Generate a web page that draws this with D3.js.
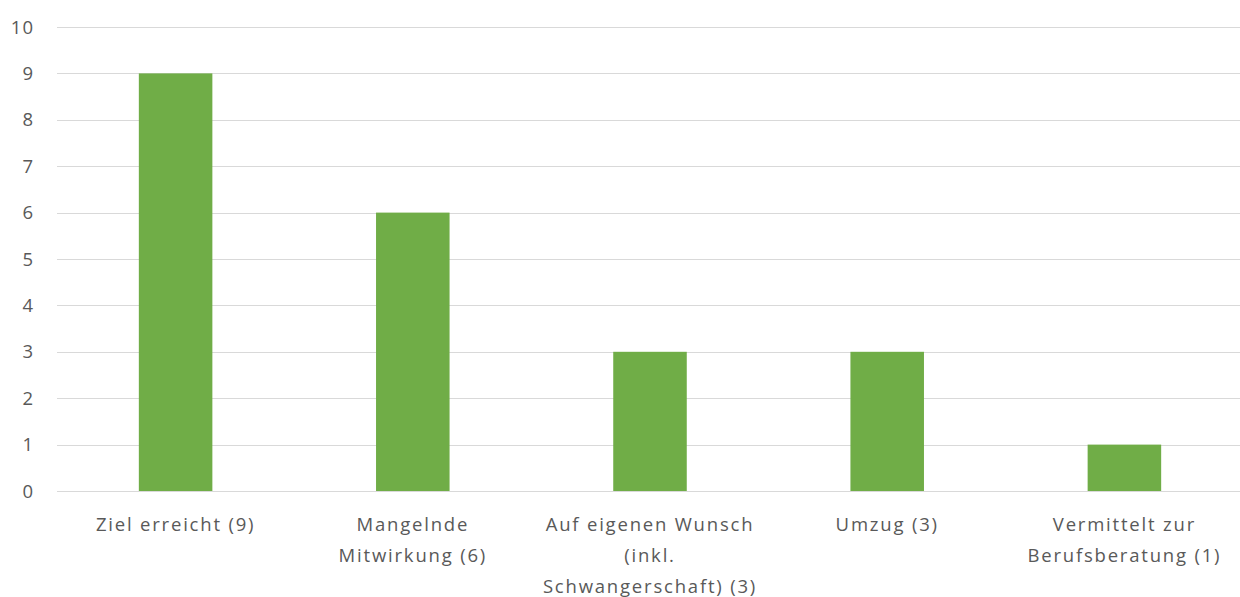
<!DOCTYPE html>
<html>
<head>
<meta charset="utf-8">
<script src="https://cdn.jsdelivr.net/npm/d3@7"></script>
<style>
  body { margin: 0; background: #fff; }
  text { font-family: "Open Sans", "Liberation Sans", sans-serif; fill: #595959; }
</style>
</head>
<body>
<div id="chart"></div>
<script>
// data
var categories = ["Ziel erreicht (9)", "Mangelnde Mitwirkung (6)", "Auf eigenen Wunsch (inkl. Schwangerschaft) (3)", "Umzug (3)", "Vermittelt zur Berufsberatung (1)"];
var categoryLines = [
    ["Ziel erreicht (9)"],
    ["Mangelnde", "Mitwirkung (6)"],
    ["Auf eigenen Wunsch", "(inkl.", "Schwangerschaft) (3)"],
    ["Umzug (3)"],
    ["Vermittelt zur", "Berufsberatung (1)"]
];
var values = [9, 6, 3, 3, 1];
var yTicks = [0, 1, 2, 3, 4, 5, 6, 7, 8, 9, 10];

var W = 1240, H = 597;
var margin = { top: 27, right: -3, bottom: 106, left: 57 },
    width = W - margin.left - margin.right,
    height = H - margin.top - margin.bottom;

var svg = d3.select("#chart")
    .append("svg")
    .attr("width", W)
    .attr("height", H)
    .append("g")
    .attr("transform", "translate(" + margin.left + "," + margin.top + ")");

var x = d3.scaleBand().domain(categories).range([0, width]).paddingInner(0.69).paddingOuter(0.345);
var y = d3.scaleLinear().domain([0, 10]).range([height, 0]);

// gridlines
svg.selectAll(".grid")
    .data(yTicks)
    .join("line")
    .attr("class", "grid")
    .attr("x1", 0)
    .attr("x2", width)
    .attr("y1", function (d) { return Math.round(y(d)) + 0.5 })
    .attr("y2", function (d) { return Math.round(y(d)) + 0.5 })
    .attr("stroke", "#d9d9d9")
    .attr("stroke-width", 1)

// y labels
svg.selectAll(".ylab")
    .data(yTicks)
    .join("text")
    .attr("class", "ylab")
    .attr("x", -23)
    .attr("y", function (d) { return y(d) })
    .attr("dy", "0.36em")
    .attr("text-anchor", "end")
    .style("font-size", "18.5px")
    .style("letter-spacing", "1px")
    .text(function (d) { return d })

// bars
svg.selectAll(".bar")
    .data(values)
    .join("rect")
    .attr("class", "bar")
    .attr("x", function (d, i) { return x(categories[i]) })
    .attr("width", x.bandwidth())
    .attr("y", function (d) { return y(d) })
    .attr("height", function (d) { return height - y(d) })
    .attr("fill", "#70ad47")

// x labels
var xl = svg.selectAll(".xlab")
    .data(categoryLines)
    .join("text")
    .attr("class", "xlab")
    .attr("text-anchor", "middle")
    .style("font-size", "18.5px")
    .style("letter-spacing", "1.8px")
    .attr("transform", function (d, i) {
        return "translate(" + (x(categories[i]) + x.bandwidth() / 2) + "," + (height + 40) + ")"
    })

xl.selectAll("tspan")
    .data(function (d) { return d })
    .join("tspan")
    .attr("x", 0)
    .attr("y", function (d, i) { return i * 31 })
    .text(function (d) { return d })
</script>
</body>
</html>
